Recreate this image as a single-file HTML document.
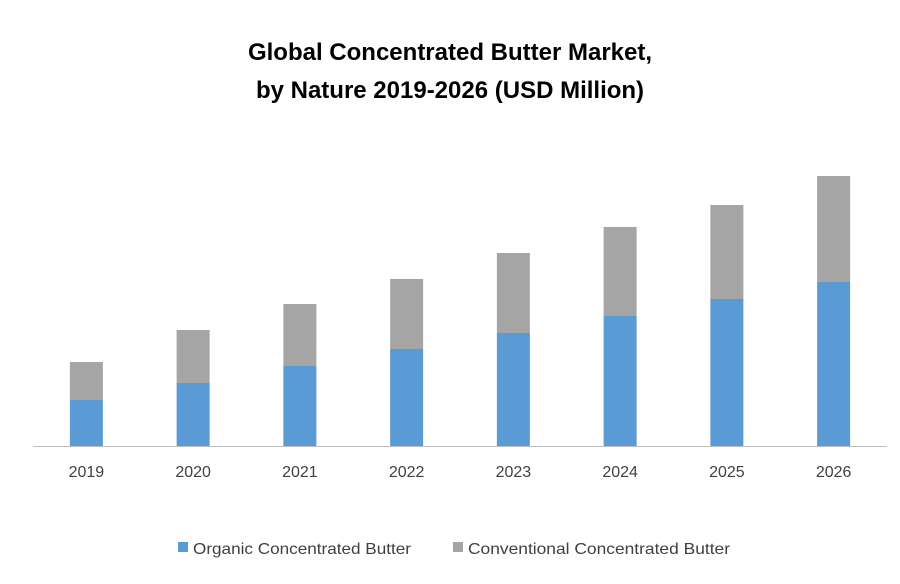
<!DOCTYPE html>
<html><head><meta charset="utf-8"><style>
body{margin:0;background:#fff;width:900px;height:579px;overflow:hidden;font-family:"Liberation Sans",sans-serif}
</style></head><body>
<svg id="chart" width="900" height="579">
<text x="450" y="60" text-anchor="middle" font-size="24" font-weight="bold" fill="#000">Global Concentrated Butter Market,</text>
<text x="450" y="98" text-anchor="middle" font-size="24" font-weight="bold" fill="#000">by Nature 2019-2026 (USD Million)</text>
<line x1="33" y1="446.5" x2="887" y2="446.5" stroke="#bfbfbf" stroke-width="1"/>
<g id="bars"></g>
<g id="xlabels"></g>
<rect x="178" y="542" width="10" height="10" fill="#5b9bd5"/>
<text x="193" y="554" font-size="16" fill="#404040" textLength="218" lengthAdjust="spacingAndGlyphs">Organic Concentrated Butter</text>
<rect x="453" y="542" width="10" height="10" fill="#a5a5a5"/>
<text x="468" y="554" font-size="16" fill="#404040" textLength="262" lengthAdjust="spacingAndGlyphs">Conventional Concentrated Butter</text>
</svg>
<script>
const categories=["2019","2020","2021","2022","2023","2024","2025","2026"];
const organic=[46,63,80,97,113,130,147,164];
const conventional=[38,53,62,70,80,89,94,106];
const NS="http://www.w3.org/2000/svg";
const x0=33,x1=887,baseY=446,bw=33,pxPerUnit=1;
const step=(x1-x0)/categories.length;
function xc(i){return x0+step*(i+0.5);}
function yv(v){return baseY-v*pxPerUnit;}
const bars=document.getElementById('bars'),xl=document.getElementById('xlabels');
categories.forEach((c,i)=>{
  const o=document.createElementNS(NS,'rect');
  o.setAttribute('x',xc(i)-bw/2);o.setAttribute('y',yv(organic[i]));
  o.setAttribute('width',bw);o.setAttribute('height',baseY-yv(organic[i]));
  o.setAttribute('fill','#5b9bd5');
  
  
  bars.appendChild(o);
  const g=document.createElementNS(NS,'rect');
  const top=yv(organic[i]+conventional[i]);
  g.setAttribute('x',xc(i)-bw/2);g.setAttribute('y',top);
  g.setAttribute('width',bw);g.setAttribute('height',yv(organic[i])-top);
  g.setAttribute('fill','#a5a5a5');
  
  
  bars.appendChild(g);
  const t=document.createElementNS(NS,'text');
  t.setAttribute('x',xc(i));t.setAttribute('y',477);
  t.setAttribute('text-anchor','middle');t.setAttribute('font-size','16');t.setAttribute('fill','#404040');
  t.textContent=c;
  
  
  xl.appendChild(t);
});
</script>
</body></html>
